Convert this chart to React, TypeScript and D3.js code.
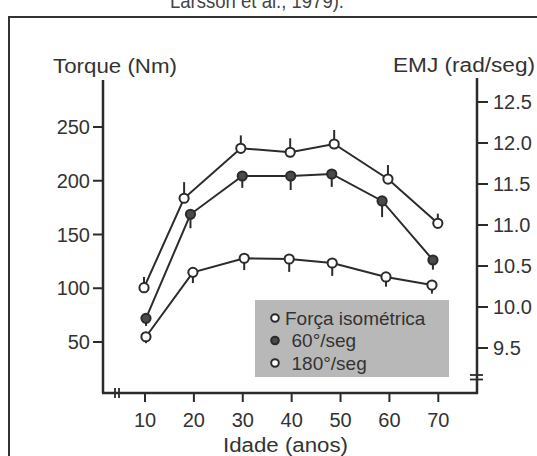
import React from "react";
import * as d3 from "d3";

// Data
const xTicks = [10, 20, 30, 40, 50, 60, 70];
const leftTicks = [50, 100, 150, 200, 250];
const rightTicks = [9.5, 10.0, 10.5, 11.0, 11.5, 12.0, 12.5];

const ageIso = [9.8, 18.0, 29.6, 39.7, 48.7, 59.7, 69.9];
const torqueIso = [100.5, 183.7, 230.2, 226.5, 234.2, 201.6, 160.4];
const errIso = [10, 15, 12, 13, 13, 13, 9];

const age60 = [10.2, 19.3, 29.9, 39.8, 48.2, 58.5, 68.9];
const torque60 = [72, 168.8, 204.4, 204.4, 206.3, 181.2, 126.3];
const err60 = [7, 13, 11, 13, 12, 15, 9];

const age180 = [10.2, 19.8, 30.3, 39.5, 48.3, 59.3, 68.7];
const torque180 = [54.9, 114.8, 127.9, 127.2, 123.5, 110.5, 103.0];
const err180 = [6, 10, 11, 12, 12, 9, 8];

const legendLabels = ["Força isométrica", "60°/seg", "180°/seg"];

const INK = "#2b2b2b";
const TXT = "#333";
const FONT = "'Liberation Sans', Arial, sans-serif";

export default function App() {
  const x = d3.scaleLinear().domain([10, 70]).range([145, 438.3]);
  const yL = d3.scaleLinear().domain([50, 250]).range([342, 127]);
  const yR = d3.scaleLinear().domain([9.5, 12.5]).range([348, 102]);

  const axL = 103, axR = 477, axB = 393;

  const series = [
    { ages: ageIso, vals: torqueIso, errs: errIso, filled: false, up: true },
    { ages: age60, vals: torque60, errs: err60, filled: true, up: false },
    { ages: age180, vals: torque180, errs: err180, filled: false, up: false },
  ];

  const line = d3
    .line<[number, number]>()
    .x((d) => x(d[0]))
    .y((d) => yL(d[1]));

  return (
    <svg
      width={537}
      height={456}
      style={{ position: "absolute", left: 0, top: 0, background: "#fff" }}
      fontFamily={FONT}
    >
      <rect x={0} y={0} width={537} height={456} fill="#fff" />
      {/* caption, cut at top as in the reference */}
      <text x={257} y={8} textAnchor="middle" fontSize={20} fill="#444" textLength={174} lengthAdjust="spacingAndGlyphs">
        Larsson et al., 1979).
      </text>
      {/* frame */}
      <rect x={9} y={17} width={540} height={460} fill="none" stroke="#333" strokeWidth={2} />

      {/* axis titles */}
      <text x={53} y={73} fontSize={20} fill={TXT} textLength={124} lengthAdjust="spacingAndGlyphs">
        Torque (Nm)
      </text>
      <text x={393} y={72} fontSize={20} fill={TXT} textLength={142} lengthAdjust="spacingAndGlyphs">
        EMJ (rad/seg)
      </text>
      <text x={285.5} y={452} fontSize={20} fill={TXT} textAnchor="middle" textLength={125} lengthAdjust="spacingAndGlyphs">
        Idade (anos)
      </text>

      {/* axes */}
      <line x1={axL} y1={80} x2={axL} y2={axB} stroke={INK} strokeWidth={2.5} />
      <line x1={axR} y1={78} x2={axR} y2={axB + 1} stroke={INK} strokeWidth={2.5} />
      <line x1={axL - 1} y1={axB} x2={axR + 1} y2={axB} stroke={INK} strokeWidth={2.5} />

      {/* axis breaks */}
      <line x1={115} y1={388} x2={115} y2={398} stroke={INK} strokeWidth={1.8} />
      <line x1={119} y1={388} x2={119} y2={398} stroke={INK} strokeWidth={1.8} />
      <line x1={470} y1={375} x2={483} y2={375} stroke={INK} strokeWidth={1.8} />
      <line x1={470} y1={379.5} x2={483} y2={379.5} stroke={INK} strokeWidth={1.8} />

      {/* left ticks */}
      {leftTicks.map((t) => (
        <g key={"l" + t}>
          <line x1={axL - 10} x2={axL} y1={yL(t)} y2={yL(t)} stroke={INK} strokeWidth={2} />
          <text x={axL - 13} y={yL(t)} dy="0.36em" textAnchor="end" fontSize={20} fill={TXT}>
            {t}
          </text>
        </g>
      ))}
      {/* right ticks */}
      {rightTicks.map((t) => (
        <g key={"r" + t}>
          <line x1={axR} x2={axR + 11} y1={yR(t)} y2={yR(t)} stroke={INK} strokeWidth={2} />
          <text x={axR + 16} y={yR(t)} dy="0.36em" textAnchor="start" fontSize={20} fill={TXT}>
            {t.toFixed(1)}
          </text>
        </g>
      ))}
      {/* x ticks */}
      {xTicks.map((t) => (
        <g key={"x" + t}>
          <line x1={x(t)} x2={x(t)} y1={axB} y2={axB + 9} stroke={INK} strokeWidth={2} />
          <text x={x(t)} y={427} textAnchor="middle" fontSize={20} fill={TXT}>
            {t}
          </text>
        </g>
      ))}

      {/* legend box */}
      <rect x={255} y={300} width={194} height={77} fill="#b8b8b8" />

      {/* series */}
      {series.map((s, i) => {
        const pts: [number, number][] = s.ages.map((a, j) => [a, s.vals[j]]);
        return (
          <g key={"s" + i}>
            <path d={line(pts) || ""} fill="none" stroke={INK} strokeWidth={2} />
            {pts.map((p, j) => {
              const e = s.errs[j];
              const y2 = s.up ? yL(p[1] + e) : yL(p[1] - e);
              return (
                <line
                  key={"e" + j}
                  x1={x(p[0])}
                  x2={x(p[0])}
                  y1={yL(p[1])}
                  y2={y2}
                  stroke={INK}
                  strokeWidth={2}
                />
              );
            })}
            {pts.map((p, j) => (
              <circle
                key={"c" + j}
                cx={x(p[0])}
                cy={yL(p[1])}
                r={4.6}
                fill={s.filled ? "#4a4a4a" : "#fff"}
                stroke={INK}
                strokeWidth={2}
              />
            ))}
          </g>
        );
      })}

      {/* legend entries */}
      {legendLabels.map((lab, i) => (
        <g key={"lg" + i}>
          <circle
            cx={275}
            cy={318 + i * 22.5}
            r={3.8}
            fill={i === 1 ? "#4a4a4a" : "#fff"}
            stroke={INK}
            strokeWidth={2}
          />
          <text
            x={i === 0 ? 285 : 291.5}
            y={318 + i * 22.5}
            dy="0.36em"
            fontSize={19}
            fill={TXT}
          >
            {lab}
          </text>
        </g>
      ))}
    </svg>
  );
}
